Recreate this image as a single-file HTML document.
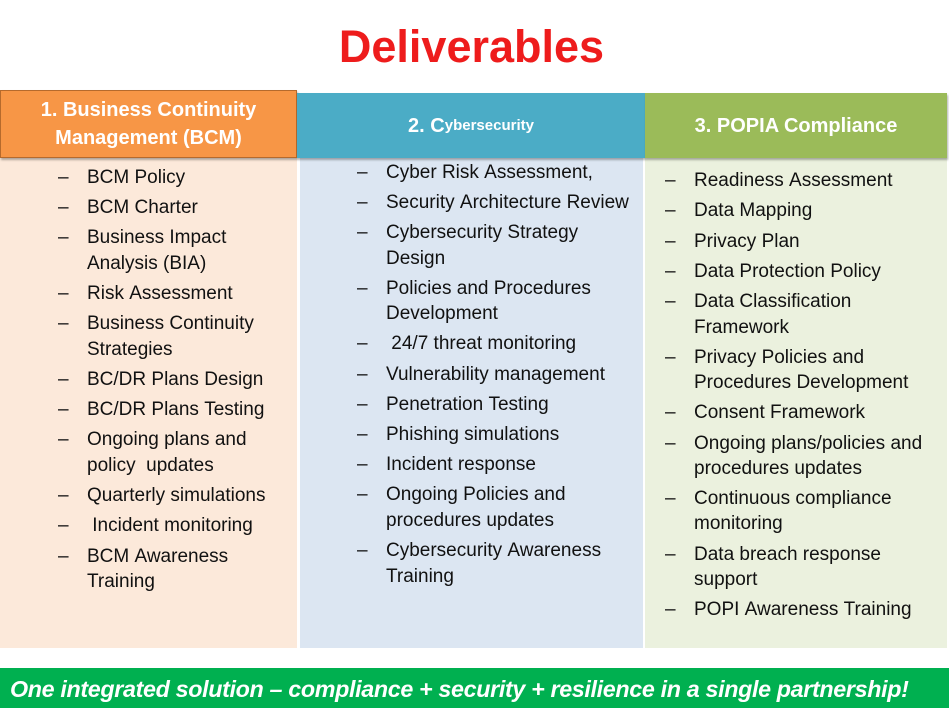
<!DOCTYPE html>
<html><head><meta charset="utf-8"><style>
body{margin:0;width:949px;height:708px;background:#fff;position:relative;overflow:hidden;font-family:"Liberation Sans",sans-serif}
.a{position:absolute}
.t{position:absolute;font-size:19px;line-height:22px;color:#111;white-space:nowrap}
.h{position:absolute;color:#fff;font-weight:bold;text-align:center;display:flex;align-items:center;justify-content:center;font-size:20px;line-height:28px;box-shadow:1px 2px 2px rgba(0,0,0,.3)}
</style></head><body>
<div class="a" style="left:0;width:949px;top:18px;text-align:center;font-size:45px;font-weight:bold;color:#ee1c1c;line-height:58px"><span style="position:relative;left:-3px">Deliverables</span></div>
<div class="a" style="left:0;top:158px;width:297px;height:490px;background:#fce9da"></div>
<div class="a" style="left:300px;top:158px;width:343px;height:490px;background:#dce6f2"></div>
<div class="a" style="left:645px;top:158px;width:302px;height:490px;background:#ebf1de"></div>
<div class="h" style="left:0;top:90px;width:297px;height:68px;background:#f79646;border:1px solid #b66a2c;box-sizing:border-box">1. Business Continuity<br>Management (BCM)</div>
<div class="h" style="left:297px;top:93px;width:348px;height:65px;background:#4bacc6">2. C<span style="font-size:15px">ybersecurity</span></div>
<div class="h" style="left:645px;top:93px;width:302px;height:65px;background:#9bbb59">3. POPIA Compliance</div>
<div class="a" style="left:0;top:668px;width:949px;height:40px;background:#00b050"></div>
<div class="a" style="left:10px;top:675px;font-size:23.3px;font-weight:bold;font-style:italic;color:#fff;line-height:28px;white-space:nowrap;letter-spacing:-0.35px">One integrated solution – compliance + security + resilience in a single partnership!</div>
<div id="c"></div>
<script>
var cols=[
[58,87,[[176,"BCM Policy",1],[206,"BCM Charter",1],[236,"Business Impact",1],[262,"Analysis (BIA)",0],[292,"Risk Assessment",1],[322,"Business Continuity",1],[348,"Strategies",0],[378,"BC/DR Plans Design",1],[408,"BC/DR Plans Testing",1],[438,"Ongoing plans and",1],[464,"policy  updates",0],[494,"Quarterly simulations",1],[524," Incident monitoring",1],[555,"BCM Awareness",1],[580,"Training",0]]],
[357,386,[[171,"Cyber Risk Assessment,",1],[201,"Security Architecture Review",1],[231,"Cybersecurity Strategy",1],[257,"Design",0],[287,"Policies and Procedures",1],[312,"Development",0],[342," 24/7 threat monitoring",1],[373,"Vulnerability management",1],[403,"Penetration Testing",1],[433,"Phishing simulations",1],[463,"Incident response",1],[493,"Ongoing Policies and",1],[519,"procedures updates",0],[549,"Cybersecurity Awareness",1],[575,"Training",0]]],
[665,694,[[179,"Readiness Assessment",1],[209,"Data Mapping",1],[240,"Privacy Plan",1],[270,"Data Protection Policy",1],[300,"Data Classification",1],[326,"Framework",0],[356,"Privacy Policies and",1],[381,"Procedures Development",0],[411,"Consent Framework",1],[442,"Ongoing plans/policies and",1],[467,"procedures updates",0],[497,"Continuous compliance",1],[522,"monitoring",0],[553,"Data breach response",1],[578,"support",0],[608,"POPI Awareness Training",1]]]];
var h="";cols.forEach(function(c){c[2].forEach(function(r){var t=r[0]-9;if(r[2])h+='<div class="t" style="left:'+c[0]+'px;top:'+t+'px">–</div>';h+='<div class="t" style="left:'+c[1]+'px;top:'+t+'px">'+r[1].replace(/ /g,"&nbsp;")+'</div>';});});
document.getElementById("c").innerHTML=h;
</script>
</body></html>
